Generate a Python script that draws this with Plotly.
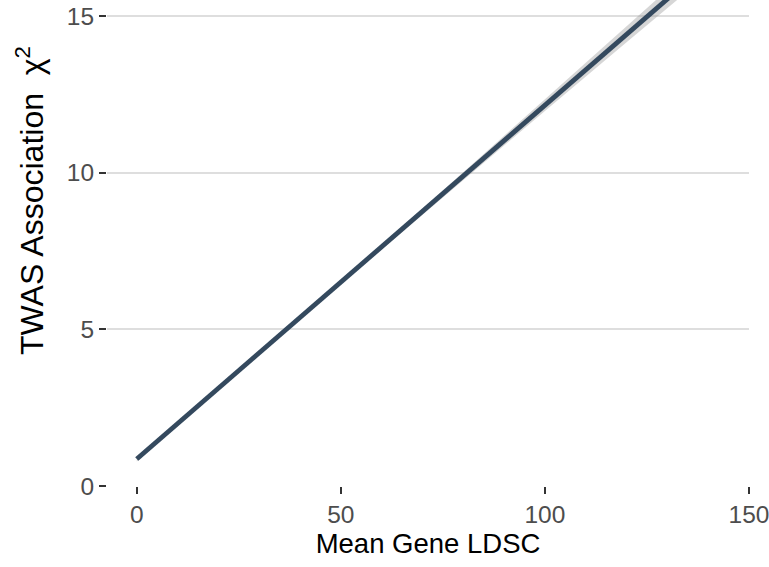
import plotly.graph_objects as go

# Fitted regression line and confidence band
ldsc = [0, 20, 40, 60, 80, 100, 120, 140]
fit = [0.86, 3.12, 5.38, 7.63, 9.89, 12.15, 14.41, 16.67]
lower = [0.78, 3.05, 5.32, 7.55, 9.77, 11.97, 14.16, 16.34]
upper = [0.94, 3.19, 5.44, 7.71, 10.01, 12.33, 14.66, 17.00]

xticks = [0, 50, 100, 150]
yticks = [0, 5, 10, 15]
y_title = "TWAS Association  χ<sup>2</sup>"

fig = go.Figure()
fig.add_trace(go.Scatter(x=ldsc, y=upper, mode="lines", line=dict(width=0),
                         hoverinfo="skip", showlegend=False))
fig.add_trace(go.Scatter(x=ldsc, y=lower, mode="lines", line=dict(width=0),
                         fill="tonexty", fillcolor="rgba(153,153,153,0.4)",
                         hoverinfo="skip", showlegend=False))
fig.add_trace(go.Scatter(x=ldsc, y=fit, mode="lines",
                         line=dict(color="#34495e", width=4.8), showlegend=False))

font = "Liberation Sans, Arial, sans-serif"
fig.update_layout(
    width=769, height=567,
    margin=dict(l=107, r=20, t=0, b=81, autoexpand=False),
    plot_bgcolor="white", paper_bgcolor="white",
    font=dict(family=font),
    xaxis=dict(range=[-7.3, 150], tickvals=xticks, ticktext=[str(v) for v in xticks],
               showgrid=False, zeroline=False, showline=False, automargin=False,
               ticklabeloverflow="allow",
               ticks="outside", ticklen=7, tickwidth=2, tickcolor="#333333",
               tickfont=dict(size=24.5, color="#4d4d4d"),
               title=dict(text="Mean Gene LDSC", font=dict(size=27.5, color="black"), standoff=6)),
    yaxis=dict(range=[0, 15.51], tickvals=yticks, ticktext=[str(v) for v in yticks],
               showgrid=True, gridcolor="#dedede", gridwidth=2, zeroline=False, showline=False,
               automargin=False,
               ticks="outside", ticklen=7, tickwidth=2, tickcolor="#333333",
               tickfont=dict(size=24.5, color="#4d4d4d")),
    annotations=[dict(text=y_title, textangle=-90, xref="paper", yref="paper",
                      x=(30 - 107) / 642, y=(486 - 201) / 486, xanchor="center", yanchor="middle",
                      showarrow=False, font=dict(size=32, color="black", family=font))],
)
fig.write_html("out.html", config={"displayModeBar": False},
               post_script="document.body.style.margin='0';document.body.style.overflow='hidden';")
